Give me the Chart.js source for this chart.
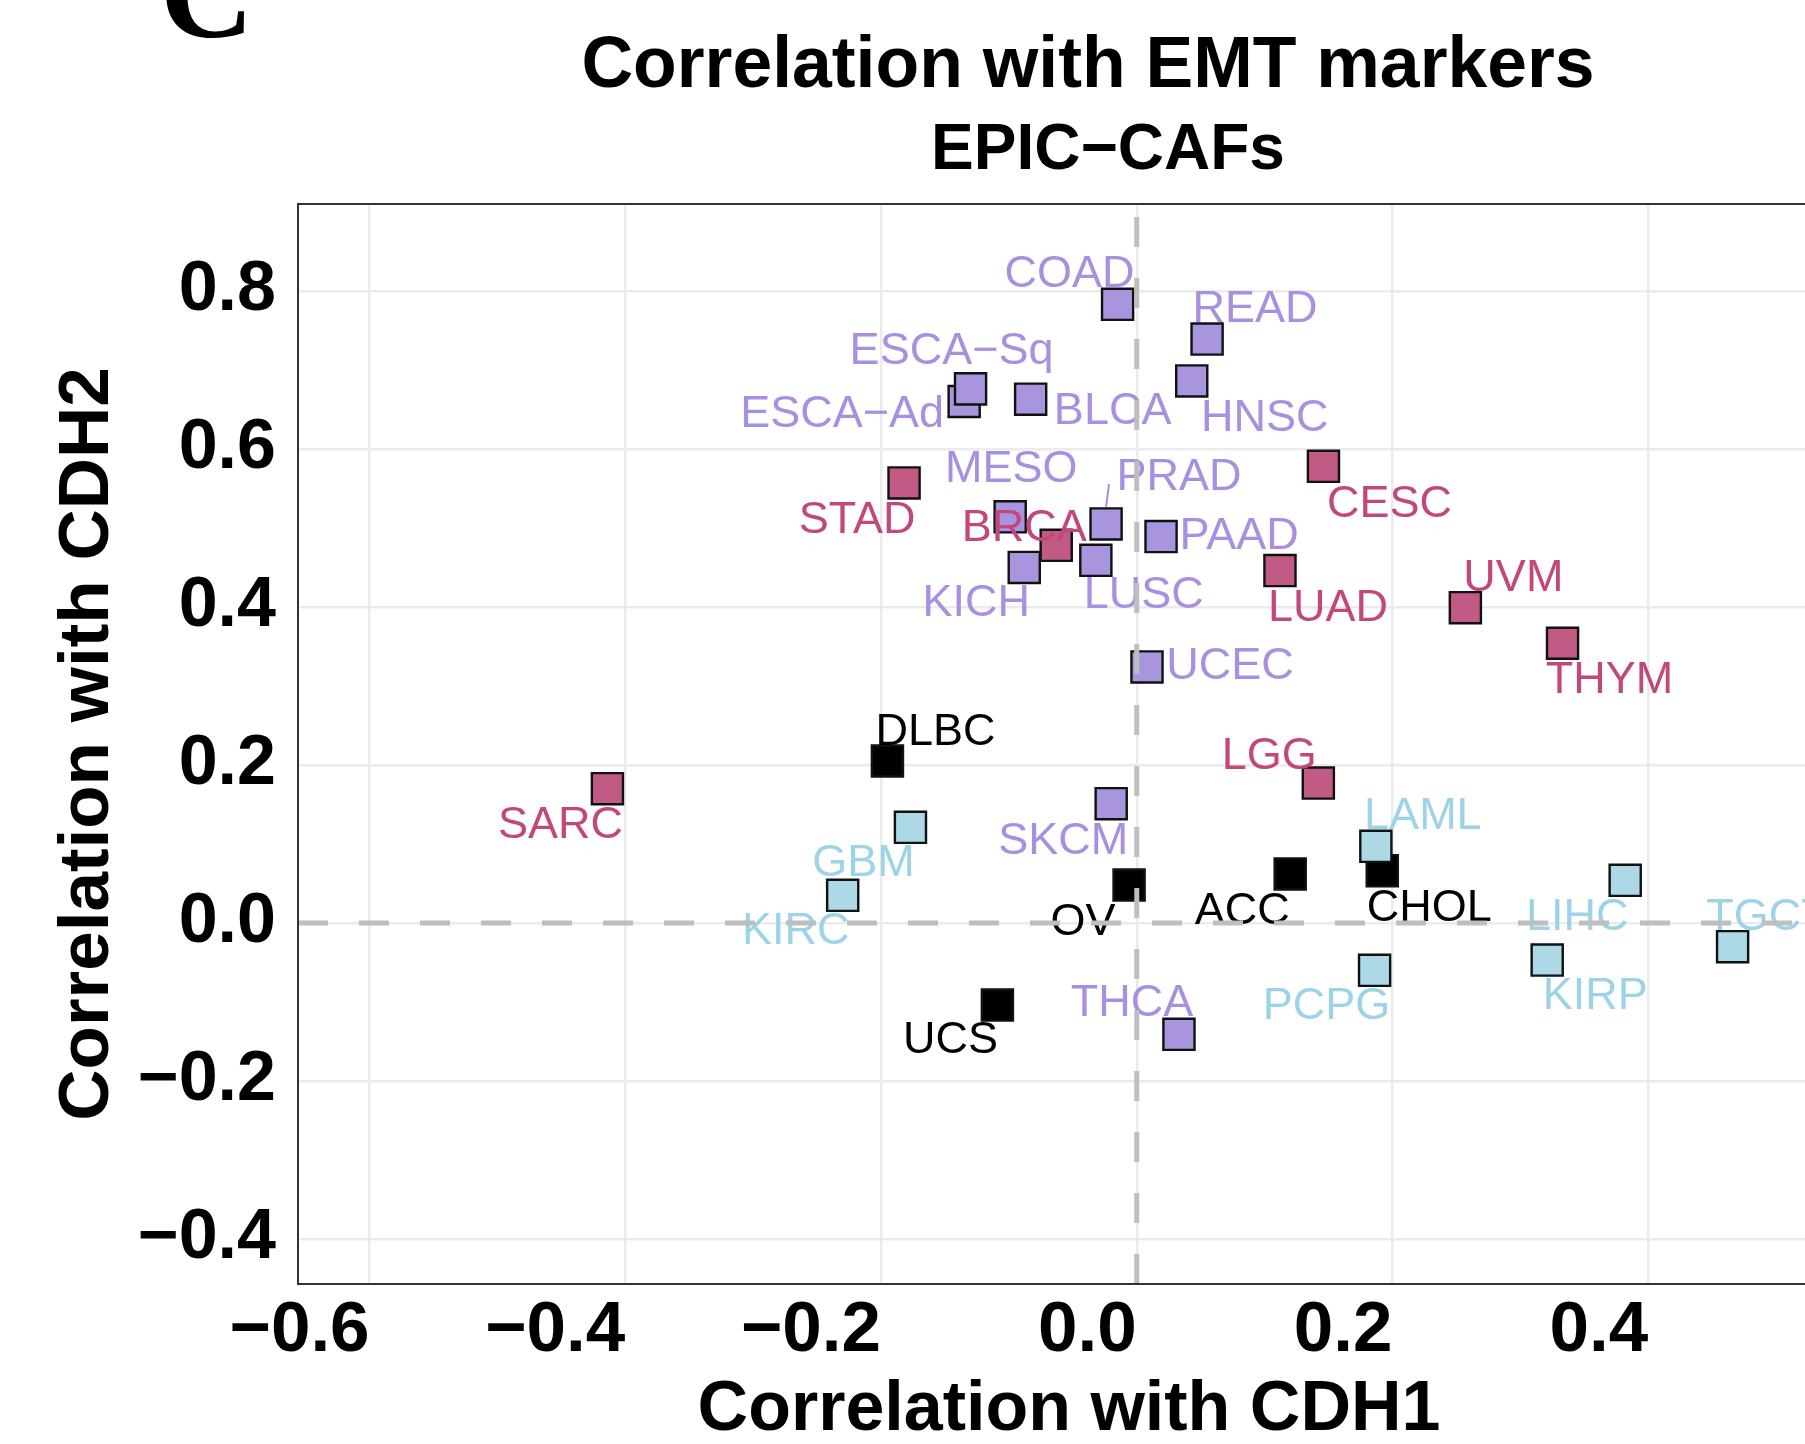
<!DOCTYPE html>
<html>
<head>
<meta charset="utf-8">
<script src="https://cdn.jsdelivr.net/npm/chart.js@4.4.1/dist/chart.umd.min.js"></script>
<style>
  html, body { margin: 0; padding: 0; background: #fff; overflow: hidden; }
  #wrap { width: 1805px; height: 1444px; overflow: hidden; }
</style>
</head>
<body>
<div id="wrap"><canvas id="emt-chart" width="2196" height="1444"></canvas></div>
<script>
// correlation of EPIC-CAFs with CDH1 (x) and CDH2 (y), one group per colour
const purpleTypes = ['COAD', 'READ', 'HNSC', 'ESCA\u2212Ad', 'ESCA\u2212Sq', 'BLCA', 'MESO', 'PRAD', 'PAAD', 'LUSC', 'KICH', 'UCEC', 'SKCM', 'THCA'];
const purpleCDH1 = [-0.015, 0.055, 0.043, -0.135, -0.130, -0.083, -0.099, -0.024, 0.019, -0.032, -0.088, 0.008, -0.020, 0.033];
const purpleCDH2 = [0.783, 0.739, 0.686, 0.660, 0.676, 0.663, 0.514, 0.505, 0.489, 0.459, 0.450, 0.324, 0.151, -0.141];

const redTypes = ['STAD', 'BRCA', 'CESC', 'LUAD', 'UVM', 'THYM', 'LGG', 'SARC'];
const redCDH1 = [-0.182, -0.063, 0.146, 0.112, 0.257, 0.333, 0.142, -0.414];
const redCDH2 = [0.557, 0.478, 0.578, 0.446, 0.399, 0.354, 0.177, 0.170];

const blueTypes = ['GBM', 'KIRC', 'LAML', 'LIHC', 'KIRP', 'PCPG', 'TGCT'];
const blueCDH1 = [-0.177, -0.230, 0.187, 0.382, 0.321, 0.186, 0.466];
const blueCDH2 = [0.121, 0.035, 0.097, 0.054, -0.047, -0.060, -0.030];

const blackTypes = ['DLBC', 'OV', 'ACC', 'CHOL', 'UCS'];
const blackCDH1 = [-0.195, -0.006, 0.120, 0.192, -0.109];
const blackCDH2 = [0.205, 0.048, 0.062, 0.066, -0.104];

const cdh1Ticks = [-0.6, -0.4, -0.2, 0.0, 0.2, 0.4];
const cdh2Ticks = [-0.4, -0.2, 0.0, 0.2, 0.4, 0.6, 0.8];
const cdh1Range = [-0.656, 0.55];
const cdh2Range = [-0.457, 0.91];

const chartTitle = 'Correlation with EMT markers';
const chartSubtitle = 'EPIC\u2212CAFs';

// label placement (pixel nudges from each square, like ggrepel put them)
const labelNudge = {
  'COAD': [-48, -17], 'READ': [48, -17], 'HNSC': [73, 50], 'ESCA\u2212Sq': [-19, -25],
  'ESCA\u2212Ad': [-122, 25], 'BLCA': [82, 25], 'MESO': [1, -35], 'PRAD': [73, -34],
  'BRCA': [-32, -4], 'PAAD': [78, 12], 'KICH': [-48, 49], 'LUSC': [48, 48],
  'CESC': [66, 51], 'LUAD': [48, 50], 'UCEC': [83, 12], 'UVM': [48, -17],
  'THYM': [47, 50], 'LIHC': [-48, 50], 'KIRP': [48, 49], 'TGCT': [35, -17],
  'LAML': [47, -17], 'CHOL': [47, 50], 'PCPG': [-48, 49], 'DLBC': [48, -16],
  'GBM': [-47, 49], 'KIRC': [-47, 49], 'SKCM': [-48, 50], 'OV': [-46, 50],
  'ACC': [-48, 50], 'UCS': [-47, 48], 'THCA': [-47, -18], 'LGG': [-49, -14],
  'STAD': [-47, 50], 'SARC': [-47, 49]
};
const labelSegment = { 'PRAD': [3, -40, 0, -17] };

const fontFamily = '"Liberation Sans", Arial, Helvetica, sans-serif';

function toPoints(xs, ys) {
  return xs.map((x, i) => ({ x: x, y: ys[i] }));
}

function fmtTick(v) {
  return v.toFixed(1).replace('-', '\u2212');
}

const panelDecor = {
  id: 'panelDecor',
  afterDatasetsDraw(chart) {
    const ctx = chart.ctx;
    const area = chart.chartArea;
    ctx.save();

    // text labels
    ctx.font = '45px ' + fontFamily;
    ctx.textAlign = 'center';
    ctx.textBaseline = 'alphabetic';
    chart.data.datasets.forEach((ds, di) => {
      chart.getDatasetMeta(di).data.forEach((pt, i) => {
        const name = ds.names[i];
        const n = labelNudge[name] || [0, 0];
        ctx.fillStyle = ds.labelColor;
        ctx.fillText(name, pt.x + n[0], pt.y + n[1]);
        const seg = labelSegment[name];
        if (seg) {
          ctx.strokeStyle = ds.labelColor;
          ctx.lineWidth = 2;
          ctx.beginPath();
          ctx.moveTo(pt.x + seg[0], pt.y + seg[1]);
          ctx.lineTo(pt.x + seg[2], pt.y + seg[3]);
          ctx.stroke();
        }
      });
    });

    // dashed zero lines, on top like the hline/vline layers
    const x0 = chart.scales.x.getPixelForValue(0);
    const y0 = chart.scales.y.getPixelForValue(0);
    ctx.strokeStyle = '#BEBEBE';
    ctx.lineWidth = 5;
    ctx.setLineDash([30, 31]);
    ctx.beginPath();
    ctx.moveTo(area.left, y0);
    ctx.lineTo(area.right, y0);
    ctx.stroke();
    ctx.beginPath();
    ctx.moveTo(x0, area.bottom);
    ctx.lineTo(x0, area.top);
    ctx.stroke();

    // panel border
    ctx.setLineDash([]);
    ctx.strokeStyle = '#333333';
    ctx.lineWidth = 2;
    ctx.strokeRect(area.left, area.top, area.right - area.left, area.bottom - area.top);
    ctx.restore();
  },
  afterDraw(chart) {
    const ctx = chart.ctx;
    ctx.save();
    ctx.fillStyle = '#000';
    ctx.textBaseline = 'alphabetic';
    // bottom of the figure's panel letter, cut off at the top edge
    ctx.textAlign = 'left';
    ctx.font = 'bold 130px "Liberation Serif", "Times New Roman", serif';
    ctx.fillText('C', 160, 37);
    // title and subtitle
    ctx.textAlign = 'center';
    ctx.font = 'bold 71.5px ' + fontFamily;
    ctx.fillText(chartTitle, 1088, 87);
    ctx.font = 'bold 64px ' + fontFamily;
    ctx.fillText(chartSubtitle, 1108, 169);
    ctx.restore();
  }
};

const squares = {
  pointStyle: 'rect',
  pointRadius: 22,
  borderColor: '#111111',
  borderWidth: 2.4
};

new Chart(document.getElementById('emt-chart'), {
  type: 'scatter',
  data: {
    datasets: [
      Object.assign({ data: toPoints(purpleCDH1, purpleCDH2), names: purpleTypes, backgroundColor: '#A995DE', labelColor: '#A98FE0' }, squares),
      Object.assign({ data: toPoints(redCDH1, redCDH2), names: redTypes, backgroundColor: '#C15A84', labelColor: '#C2477A' }, squares),
      Object.assign({ data: toPoints(blueCDH1, blueCDH2), names: blueTypes, backgroundColor: '#ADD8E6', labelColor: '#9DD3E7' }, squares),
      Object.assign({ data: toPoints(blackCDH1, blackCDH2), names: blackTypes, backgroundColor: '#000000', labelColor: '#000000' }, squares)
    ]
  },
  options: {
    responsive: false,
    devicePixelRatio: 1,
    animation: false,
    events: [],
    layout: { padding: { left: 0, right: 356, top: 204, bottom: 0 } },
    plugins: {
      legend: { display: false },
      tooltip: { enabled: false }
    },
    scales: {
      x: {
        type: 'linear',
        min: cdh1Range[0],
        max: cdh1Range[1],
        afterBuildTicks: s => { s.ticks = cdh1Ticks.map(v => ({ value: v })); },
        afterFit: s => { s.height = 160; },
        grid: { color: '#EBEBEB', lineWidth: 2.5, drawTicks: false },
        border: { display: false },
        ticks: {
          align: 'end', padding: 5, maxRotation: 0, minRotation: 0, autoSkip: false,
          color: '#000', font: { family: fontFamily, size: 71, weight: 'bold' },
          callback: fmtTick
        },
        title: {
          display: true, text: 'Correlation with CDH1', color: '#000',
          font: { family: fontFamily, size: 70, weight: 'bold', lineHeight: 0.95 },
          padding: { top: 0, bottom: 0 }
        }
      },
      y: {
        type: 'linear',
        min: cdh2Range[0],
        max: cdh2Range[1],
        afterBuildTicks: s => { s.ticks = cdh2Ticks.map(v => ({ value: v })); },
        afterFit: s => { s.width = 298; },
        grid: { color: '#EBEBEB', lineWidth: 2.5, drawTicks: false },
        border: { display: false },
        ticks: {
          padding: 22, autoSkip: false,
          color: '#000', font: { family: fontFamily, size: 70, weight: 'bold' },
          callback: fmtTick
        },
        title: {
          display: true, text: 'Correlation with CDH2', color: '#000',
          font: { family: fontFamily, size: 71, weight: 'bold' },
          padding: { top: 46, bottom: 0 }
        }
      }
    }
  },
  plugins: [panelDecor]
});
</script>
</body>
</html>
